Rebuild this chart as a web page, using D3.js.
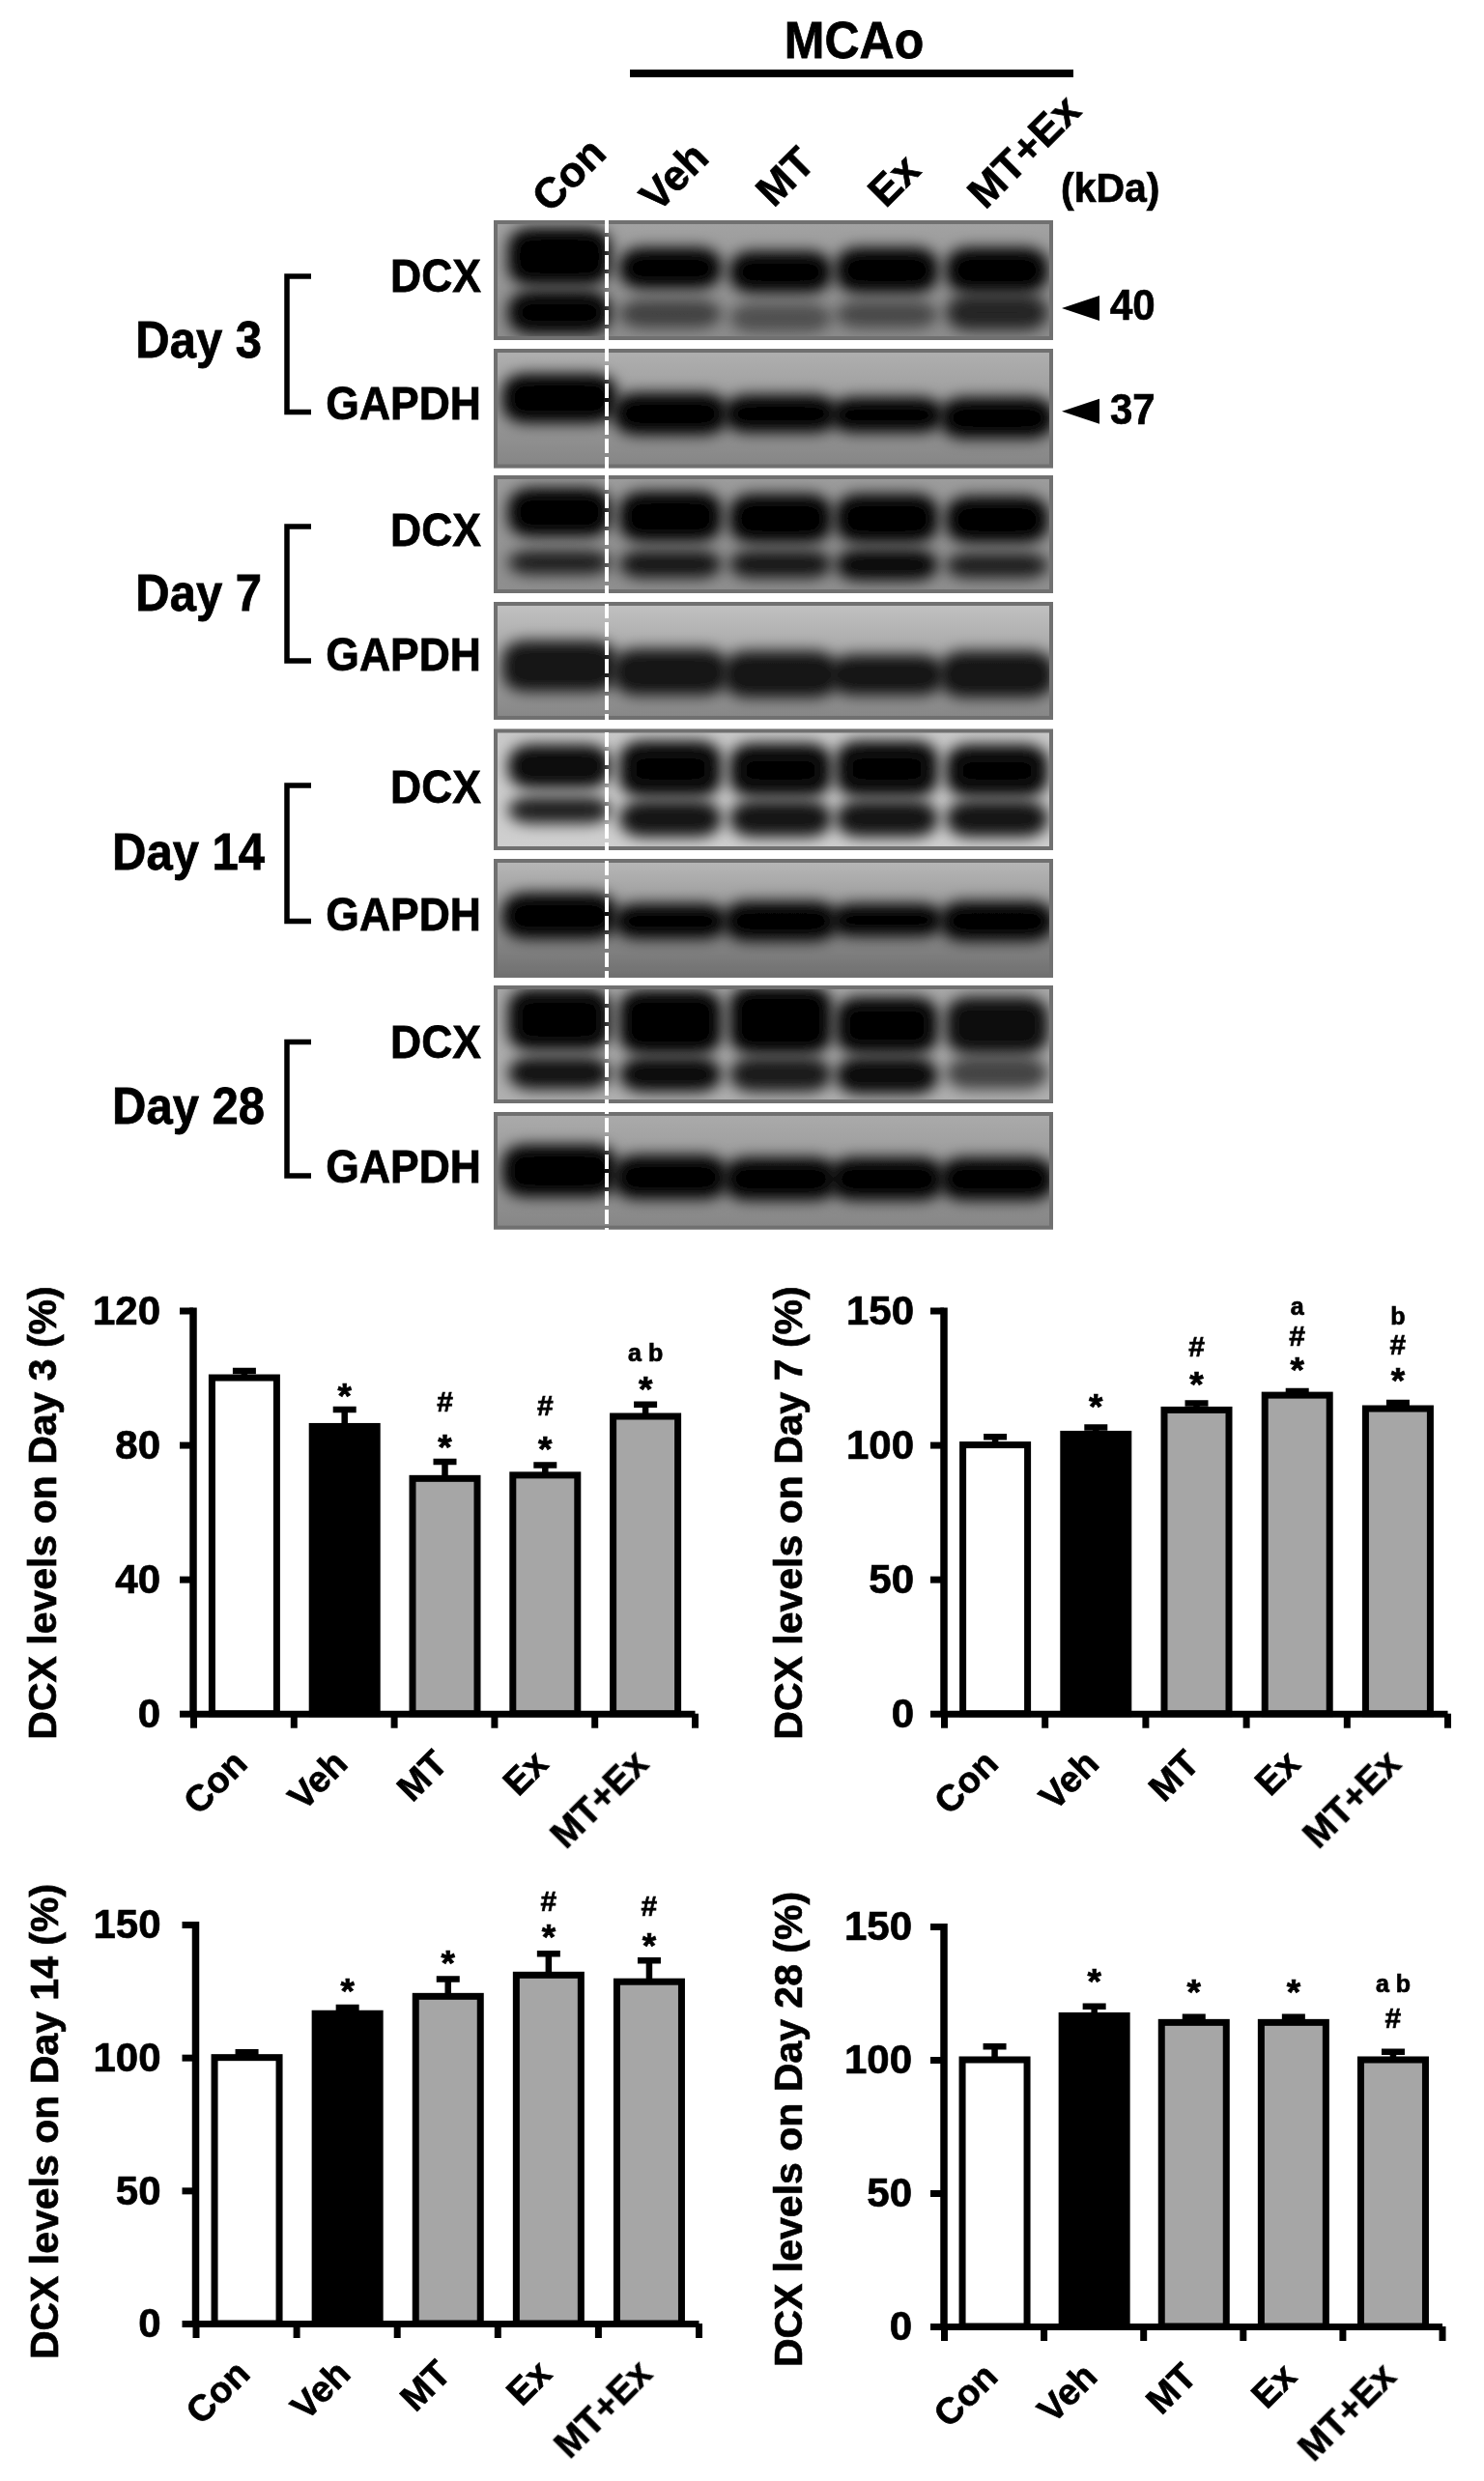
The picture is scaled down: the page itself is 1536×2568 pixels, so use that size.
<!DOCTYPE html>
<html><head><meta charset="utf-8">
<script src="https://cdn.jsdelivr.net/npm/d3@7"></script>
<style>
html,body{margin:0;padding:0;background:#fff}
svg{display:block}
text{font-family:"Liberation Sans",Arial,sans-serif;font-weight:700;fill:#000;stroke:#000;stroke-width:.7px;paint-order:stroke}
</style></head><body>
<svg id="fig" width="1536" height="2568"></svg>
<script>
const categories = ["Con","Veh","MT","Ex","MT+Ex"];
const barFills = ["#ffffff","#000000","#a6a6a6","#a6a6a6","#a6a6a6"];

const day3Values = [100,85.5,70,71,88.5];
const day3Upper  = [102,90.5,75,74,92];
const day7Values = [100,104,113,118.5,113.5];
const day7Upper  = [103,106.5,115.5,120,115.7];
const day14Values = [100,116.5,123,131,128.5];
const day14Upper  = [102,118.8,129.5,139,136.5];
const day28Values = [100,116.5,114,114,100];
const day28Upper  = [105,120,116,116,103];

const day3Ticks = [0,40,80,120];
const otherTicks = [0,50,100,150];

// significance marks: [category index, glyph, level on the value axis]
const day3Marks = [[1,"*",96.8],[2,"#",93],[2,"*",81.3],[3,"#",91.8],[3,"*",80.8],[4,"a b",107],[4,"*",98.6]];
const day7Marks = [[1,"*",116.7],[2,"#",136.6],[2,"*",125],[3,"a",151.2],[3,"#",140.5],[3,"*",130.7],[4,"b",147.6],[4,"#",137.3],[4,"*",126.7]];
const day14Marks = [[1,"*",127.7],[2,"*",138],[3,"#",159],[3,"*",147.8],[4,"#",157],[4,"*",144.8]];
const day28Marks = [[1,"*",132],[2,"*",128],[3,"*",128],[4,"a b",128],[4,"#",115.9]];

// blot band extents per lane, as fractions of the strip height, with density
const stripNames = ["DCX","GAPDH","DCX","GAPDH","DCX","GAPDH","DCX","GAPDH"];
const stripShades = [["#a2a2a2","#8c8c8c"],["#b0b0b0","#858585"],["#9c9c9c","#8e8e8e"],["#c2c2c2","#858585"],
                     ["#c8c8c8","#cfcfcf"],["#b8b8b8","#6f6f6f"],["#a8a8a8","#b0b0b0"],["#ababab","#868686"]];
const upperTop = [[.105,.27,.30,.27,.27],[.25,.41,.43,.45,.45],[.15,.18,.20,.20,.22],[.37,.44,.46,.49,.46],
                  [.17,.14,.16,.14,.17],[.33,.42,.40,.42,.40],[.07,.08,.05,.14,.14],[.32,.41,.43,.43,.43]];
const upperBot = [[.50,.53,.565,.565,.565],[.58,.68,.66,.66,.71],[.48,.52,.53,.53,.53],[.72,.75,.77,.75,.77],
                  [.45,.52,.52,.52,.52],[.63,.63,.65,.61,.65],[.51,.54,.54,.54,.54],[.68,.70,.71,.71,.71]];
const upperDen = [[1,1,1,1,1],[1,1,1,1,1],[1,1,1,1,1],[.88,.88,.88,.88,.88],[.95,.97,.97,.97,.97],[1,1,1,1,1],[.98,1,1,.98,.92],[1,1,1,1,1]];
const lowerTop = [[.63,.70,.73,.71,.66],null,[.68,.68,.68,.67,.70],null,[.60,.63,.63,.63,.63],null,[.65,.65,.65,.65,.65],null];
const lowerBot = [[.91,.86,.895,.86,.88],null,[.80,.83,.83,.85,.83],null,[.74,.85,.85,.85,.85],null,[.84,.86,.86,.88,.84],null];
const lowerDen = [[.98,.55,.45,.5,.75],null,[.8,.85,.85,.95,.8],null,[.85,.9,.9,.9,.9],null,[.9,.95,.85,.95,.62],null];

const dayLabels = ["Day 3","Day 7","Day 14","Day 28"];
const kdaLabels = ["40","37"];

const svg = d3.select("#fig");
const defs = svg.append("defs");
const soft = defs.append("filter").attr("id","soft").attr("x","-5%").attr("y","-5%").attr("width","110%").attr("height","110%");
soft.append("feGaussianBlur").attr("stdDeviation",0.7);
const bandBlur = defs.append("filter").attr("id","bandBlur").attr("x","-40%").attr("y","-60%").attr("width","180%").attr("height","220%");
bandBlur.append("feGaussianBlur").attr("stdDeviation",7.5);

const root = svg.append("g").attr("filter","url(#soft)");

/* ---------- blots ---------- */
const stripTops = [228,361,492,623,754.5,889,1020,1151];
const stripBots = [352,484.5,614,745,880,1012,1142,1272.6];
const laneCentres = [579,694,808,918,1032];

stripNames.forEach((name,i)=>{
  const g = root.append("g");
  const id = "strip"+i, gid="shade"+i;
  defs.append("clipPath").attr("id",id).append("rect")
    .attr("x",511).attr("y",stripTops[i]).attr("width",579).attr("height",stripBots[i]-stripTops[i]);
  const lg = defs.append("linearGradient").attr("id",gid).attr("x1",0).attr("x2",0).attr("y1",0).attr("y2",1);
  lg.append("stop").attr("offset","0%").attr("stop-color",stripShades[i][0]);
  lg.append("stop").attr("offset","100%").attr("stop-color",stripShades[i][1]);
  const y = d3.scaleLinear().domain([0,1]).range([stripTops[i],stripBots[i]]);
  const inner = g.append("g").attr("clip-path",`url(#${id})`);
  inner.append("rect").attr("x",511).attr("y",stripTops[i]).attr("width",579).attr("height",stripBots[i]-stripTops[i]).attr("fill",`url(#${gid})`);
  const w = name==="GAPDH" ? 118 : 106, pad = 5;
  const drawBand = (tops,bots,dens)=>{
    categories.forEach((c,k)=>{
      inner.append("rect")
        .attr("x",laneCentres[k]-w/2).attr("width",w)
        .attr("y",y(tops[k])-pad).attr("height",y(bots[k])-y(tops[k])+2*pad)
        .attr("rx",24).attr("ry",18)
        .attr("fill","#050505").attr("fill-opacity",dens[k])
        .attr("filter","url(#bandBlur)");
    });
  };
  if(lowerTop[i]) drawBand(lowerTop[i],lowerBot[i],lowerDen[i]);
  drawBand(upperTop[i],upperBot[i],upperDen[i]);
  g.append("rect").attr("x",513).attr("y",stripTops[i]+2).attr("width",575).attr("height",stripBots[i]-stripTops[i]-4)
    .attr("fill","none").attr("stroke","#707070").attr("stroke-width",4);
});
root.append("line").attr("x1",628).attr("x2",628).attr("y1",226).attr("y2",1274)
  .attr("stroke","#fff").attr("stroke-width",4).attr("stroke-dasharray","15 4");

/* ---------- strip labels ---------- */
const stripBaselines = [302,433.6,565,694.5,831,963,1095,1224];
stripNames.forEach((n,i)=>{
  root.append("text").attr("transform",`translate(498,${stripBaselines[i]}) scale(1,1.1)`).attr("text-anchor","end").attr("font-size",44.5).text(n);
});
const brTop=[286,545,813,1078.5], brBot=[426.5,684,953.5,1217], dayBase=[370,631.6,900,1163], dayRight=[271,271,274,274];
dayLabels.forEach((d,i)=>{
  root.append("text").attr("transform",`translate(${dayRight[i]},${dayBase[i]}) scale(1,1.08)`).attr("text-anchor","end").attr("font-size",49).text(d);
  root.append("path").attr("d",d3.line()([[322,brTop[i]],[297,brTop[i]],[297,brBot[i]],[322,brBot[i]]]))
    .attr("fill","none").attr("stroke","#000").attr("stroke-width",5.5);
});
/* top labels */
root.append("text").attr("transform","translate(884,60) scale(1,1.08)").attr("text-anchor","middle").attr("font-size",50).text("MCAo");
root.append("rect").attr("x",652).attr("y",72).attr("width",459).attr("height",8).attr("fill","#000");
const topCx=[588,697,812,924.5,1059], topCy=[180,182,182,186,156];
categories.forEach((c,i)=>{
  root.append("text").attr("transform",`translate(${topCx[i]},${topCy[i]}) rotate(-45)`)
    .attr("text-anchor","middle").attr("dy",".36em").attr("font-size",44).text(c);
});
root.append("text").attr("transform","translate(1098,209) scale(1,1.06)").attr("font-size",41).text("(kDa)");
const arrowY=[319,425.7], arrowBase=[331,438.5];
kdaLabels.forEach((k,i)=>{
  root.append("path").attr("d",`M1099,${arrowY[i]}L1138,${arrowY[i]-13}L1138,${arrowY[i]+13}Z`).attr("fill","#000");
  root.append("text").attr("transform",`translate(1149,${arrowBase[i]}) scale(1,1.06)`).attr("font-size",42).text(k);
});

/* ---------- bar panels ---------- */
function panel(o){
  const g = root.append("g");
  const y = d3.scaleLinear().domain(o.domain).range([o.y0,o.yTop]);
  const xi = d3.scaleLinear().domain([0,categories.length]).range([o.xLeft,o.xRight]);
  const x = d3.scaleBand().domain(categories).range([o.xLeft,o.xRight]);
  const barW = 67;
  const bc = c => x(c)+x.bandwidth()/2+o.barShift;

  const vals = categories.map((c,i)=>({c,i,v:o.values[i],u:o.upper[i]}));
  g.selectAll(".eb").data(vals).enter().append("path")
    .attr("d",d=>`M${bc(d.c)},${y(d.v)}V${y(d.u)}M${bc(d.c)-12},${y(d.u)}H${bc(d.c)+12}`)
    .attr("fill","none").attr("stroke","#000").attr("stroke-width",6.5);
  g.selectAll(".bar").data(vals).enter().append("rect")
    .attr("x",d=>bc(d.c)-barW/2).attr("width",barW)
    .attr("y",d=>y(d.v)).attr("height",d=>y(0)-y(d.v))
    .attr("fill",(d,i)=>barFills[i]).attr("stroke","#000").attr("stroke-width",7);
  const ay = g.append("g").attr("transform",`translate(${o.xLeft},0)`)
    .call(d3.axisLeft(y).tickValues(o.ticks).tickSize(14).tickSizeOuter(0).tickPadding(o.labelGap-14));
  ay.select(".domain").attr("stroke","#000").attr("stroke-width",7.5).attr("d",`M0,${y(o.domain[1])-3}V${y(0)+3}`);
  ay.selectAll(".tick line").attr("stroke","#000").attr("stroke-width",7);
  ay.selectAll(".tick text").attr("font-size",42).attr("dy",".33em").style("font-family",'"Liberation Sans"').style("font-weight",700).attr("fill","#000");
  const ax = g.append("g").attr("transform",`translate(0,${o.y0})`)
    .call(d3.axisBottom(xi).tickValues(d3.range(categories.length+1)).tickSize(15).tickSizeOuter(0).tickFormat(""));
  ax.select(".domain").attr("stroke","#000").attr("stroke-width",7);
  ax.selectAll(".tick line").attr("stroke","#000").attr("stroke-width",7);
  categories.forEach(c=>{
    g.append("text").attr("transform",`translate(${bc(c)+o.labDx},${o.y0+o.labDy}) rotate(-45)`)
      .attr("text-anchor","end").attr("font-size",38).text(c);
  });
  g.append("text").attr("transform",`translate(${o.titleX},${o.titleY}) rotate(-90)`)
    .attr("text-anchor","middle").attr("font-size",41).text(o.title);
  const sizes={"*":37,"#":30}, lift={"*":.55,"#":.35};
  o.marks.forEach(([k,t,lv])=>{
    const fs=sizes[t]||25, up=lift[t]||.3;
    g.append("text").attr("x",bc(categories[k])).attr("y",y(lv)+fs*up)
      .attr("text-anchor","middle").attr("font-size",fs).attr("fill","#1a1a1a").text(t);
  });
}
panel({title:"DCX levels on Day 3 (%)",values:day3Values,upper:day3Upper,marks:day3Marks,ticks:day3Ticks,domain:[0,120],
  xLeft:200,xRight:719,y0:1773.7,yTop:1356.5,labelGap:34,barShift:1,labDx:5,labDy:54,titleX:58,titleY:1566});
panel({title:"DCX levels on Day 7 (%)",values:day7Values,upper:day7Upper,marks:day7Marks,ticks:otherTicks,domain:[0,150],
  xLeft:977,xRight:1498,y0:1773.7,yTop:1356.5,labelGap:31,barShift:1,labDx:5,labDy:54,titleX:830,titleY:1566});
panel({title:"DCX levels on Day 14 (%)",values:day14Values,upper:day14Upper,marks:day14Marks,ticks:otherTicks,domain:[0,150],
  xLeft:202.5,xRight:723,y0:2405,yTop:1992,labelGap:36,barShift:1,labDx:5,labDy:54,titleX:60,titleY:2196});
panel({title:"DCX levels on Day 28 (%)",values:day28Values,upper:day28Upper,marks:day28Marks,ticks:otherTicks,domain:[0,150],
  xLeft:977,xRight:1492.5,y0:2408,yTop:1994,labelGap:33,barShift:1,labDx:5,labDy:54,titleX:830,titleY:2204});
</script>
</body></html>
